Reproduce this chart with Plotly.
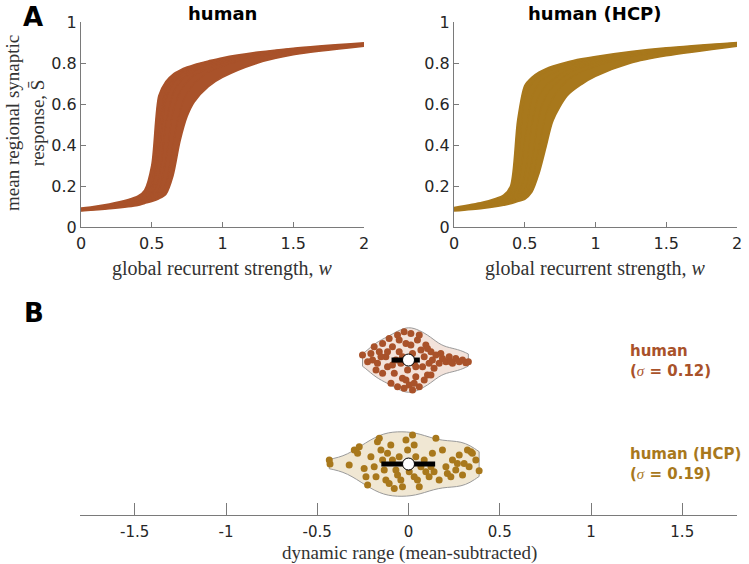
import plotly.graph_objects as go

# ---------------- Data ----------------
# Panel A, human: representative curves (leftmost -> rightmost)
W_HUMAN = [0, 0.2, 0.4, 0.45, 0.5, 0.55, 0.6, 0.65, 0.7, 0.75, 0.8, 0.9, 1.0, 1.25, 1.5, 2.0]
S_HUMAN = [
    [0.092, 0.112, 0.150, 0.180, 0.300, 0.640, 0.710, 0.745, 0.765, 0.780, 0.792, 0.810, 0.826, 0.853, 0.872, 0.898],
    [0.088, 0.106, 0.138, 0.160, 0.210, 0.480, 0.670, 0.720, 0.750, 0.770, 0.785, 0.805, 0.822, 0.850, 0.870, 0.896],
    [0.086, 0.102, 0.130, 0.148, 0.180, 0.360, 0.620, 0.700, 0.735, 0.758, 0.775, 0.800, 0.818, 0.847, 0.868, 0.895],
    [0.084, 0.098, 0.122, 0.138, 0.160, 0.240, 0.500, 0.650, 0.710, 0.740, 0.760, 0.790, 0.810, 0.843, 0.865, 0.893],
    [0.082, 0.095, 0.116, 0.130, 0.145, 0.180, 0.330, 0.560, 0.660, 0.710, 0.740, 0.775, 0.800, 0.838, 0.862, 0.891],
    [0.080, 0.092, 0.110, 0.122, 0.135, 0.155, 0.210, 0.400, 0.570, 0.650, 0.700, 0.755, 0.785, 0.830, 0.857, 0.888],
    [0.078, 0.089, 0.105, 0.115, 0.125, 0.138, 0.160, 0.250, 0.420, 0.540, 0.610, 0.685, 0.730, 0.800, 0.840, 0.882],
]

# Panel A, human (HCP)
W_HCP = [0, 0.2, 0.3, 0.35, 0.4, 0.45, 0.5, 0.55, 0.6, 0.65, 0.7, 0.8, 0.9, 1.0, 1.25, 1.5, 2.0]
S_HCP = [
    [0.095, 0.120, 0.140, 0.155, 0.200, 0.520, 0.690, 0.730, 0.755, 0.772, 0.785, 0.805, 0.820, 0.832, 0.856, 0.874, 0.900],
    [0.092, 0.114, 0.130, 0.142, 0.170, 0.300, 0.630, 0.700, 0.735, 0.755, 0.770, 0.795, 0.813, 0.827, 0.852, 0.871, 0.898],
    [0.088, 0.108, 0.122, 0.132, 0.150, 0.200, 0.420, 0.630, 0.700, 0.730, 0.750, 0.782, 0.804, 0.820, 0.848, 0.868, 0.896],
    [0.085, 0.103, 0.116, 0.124, 0.138, 0.165, 0.250, 0.500, 0.640, 0.690, 0.720, 0.765, 0.790, 0.810, 0.842, 0.864, 0.894],
    [0.083, 0.099, 0.110, 0.118, 0.128, 0.148, 0.185, 0.320, 0.540, 0.640, 0.685, 0.745, 0.777, 0.800, 0.836, 0.860, 0.891],
    [0.081, 0.095, 0.105, 0.112, 0.120, 0.135, 0.160, 0.220, 0.390, 0.550, 0.630, 0.715, 0.757, 0.785, 0.828, 0.855, 0.888],
    [0.078, 0.091, 0.100, 0.106, 0.113, 0.124, 0.135, 0.170, 0.260, 0.390, 0.520, 0.640, 0.695, 0.735, 0.800, 0.835, 0.882],
]

# Panel B: dynamic range (mean-subtracted), with vertical jitter offsets
DR_HUMAN = [-0.252, -0.224, -0.206, -0.188, -0.160, -0.170, -0.142, -0.124, -0.115, -0.106,
            -0.088, -0.078, -0.060, -0.051, -0.042, -0.033, -0.024, -0.014, -0.005, 0.004,
            0.013, 0.022, 0.031, 0.040, 0.049, 0.059, 0.068, 0.077, 0.086, 0.095,
            0.104, 0.113, 0.123, 0.131, 0.140, 0.150, 0.168, 0.186, 0.205, 0.223,
            0.241, 0.259, 0.278, 0.296, 0.314, 0.328, 0.232, -0.096, -0.060, -0.024,
            0.022, -0.142, -0.178, -0.069, 0.013, -0.051, -0.115, -0.014, 0.040, 0.086,
            -0.151, 0.059, 0.104, -0.033, -0.088, 0.004, 0.123, -0.197, 0.031, 0.177]
JIT_HUMAN = [0.048, -0.016, 0.064, 0.128, 0.080, -0.032, 0.160, 0.032, -0.064, 0.208,
             0.128, -0.128, 0.240, 0.080, -0.032, -0.176, 0.272, 0.160, -0.096, -0.240,
             0.256, 0.064, -0.032, -0.160, 0.192, -0.256, 0.096, -0.064, 0.032, 0.144,
             -0.144, -0.032, 0.080, 0.000, -0.080, 0.048, -0.032, 0.016, -0.016, 0.032,
             -0.032, 0.016, -0.016, 0.000, -0.026, -0.016, -0.016, -0.224, -0.256, -0.272,
             -0.288, -0.128, -0.096, 0.000, 0.144, 0.192, 0.080, -0.192, -0.064, -0.192,
             0.032, 0.240, 0.112, 0.032, -0.048, 0.000, -0.144, 0.000, -0.224, 0.064]

DR_HCP = [-0.434, -0.430, -0.325, -0.297, -0.270, -0.279, -0.243, -0.224, -0.206, -0.178,
          -0.160, -0.170, -0.151, -0.133, -0.124, -0.115, -0.097, -0.088, -0.078, -0.069,
          -0.060, -0.051, -0.042, -0.033, -0.014, -0.005, 0.004, 0.022, 0.031, 0.040,
          0.049, 0.059, 0.068, 0.086, 0.095, 0.113, 0.123, 0.131, 0.140, 0.150,
          0.168, 0.186, 0.205, 0.213, 0.232, 0.241, 0.259, 0.268, 0.278, 0.296,
          0.323, 0.342, 0.350, 0.369, 0.387, 0.332, 0.305, -0.233, -0.188, -0.106,
          -0.142, 0.013, 0.031]
JIT_HCP = [0.038, 0.000, -0.010, 0.135, 0.167, 0.103, -0.042, -0.202, 0.071, -0.122,
           0.247, 0.215, 0.135, -0.058, -0.154, 0.103, 0.183, 0.038, -0.234, -0.058,
           -0.106, 0.071, -0.154, -0.218, 0.231, 0.135, -0.074, 0.279, 0.183, 0.071,
           -0.154, -0.218, -0.026, 0.038, -0.074, -0.122, -0.026, 0.103, -0.074, 0.247,
           -0.154, 0.135, -0.026, -0.090, -0.122, 0.038, -0.058, 0.006, 0.087, -0.106,
           0.135, 0.119, 0.103, 0.038, -0.064, -0.026, 0.006, -0.122, -0.026, -0.186,
           0.038, 0.006, -0.122]

GROUPS = ["human", "human (HCP)"]
GROUP_POS = [2, 1]
MEDIANS = [0.0, 0.0]
Q1 = [-0.093, -0.149]
Q3 = [0.062, 0.146]
SIGMAS = ["0.12", "0.19"]

X_TICKS_A = [0, 0.5, 1, 1.5, 2]
X_TICKTEXT_A = ["0", "0.5", "1", "1.5", "2"]
Y_TICKS_A = [0, 0.2, 0.4, 0.6, 0.8, 1]
Y_TICKTEXT_A = ["0", "0.2", "0.4", "0.6", "0.8", "1"]
X_TICKS_B = [-1.5, -1, -0.5, 0, 0.5, 1, 1.5]
X_TICKTEXT_B = ["-1.5", "-1", "-0.5", "0", "0.5", "1", "1.5"]

# ---------------- Style ----------------
C_HUMAN = "#A9522A"
C_HCP = "#A8781C"
F_HUMAN = "#F3E3DB"
F_HCP = "#F0E7D3"
AX = "#7a7a7a"
TXT = "#262626"
SANS = "DejaVu Sans"
SERIF = "Liberation Serif"

W, H = 749, 564
def px(x):
    return x / W
def py(y):
    return 1 - y / H

fig = go.Figure()

def add_bundle(wv, curves, color, xa, ya):
    fig.add_trace(go.Scatter(x=wv, y=curves[-1], mode="lines", line=dict(color=color, width=1.6, shape="spline", smoothing=0.8),
                             xaxis=xa, yaxis=ya, showlegend=False, hoverinfo="skip"))
    fig.add_trace(go.Scatter(x=wv, y=curves[0], mode="lines", line=dict(color=color, width=1.6, shape="spline", smoothing=0.8),
                             fill="tonexty", fillcolor=color,
                             xaxis=xa, yaxis=ya, showlegend=False, hoverinfo="skip"))
    for c in curves[1:-1]:
        fig.add_trace(go.Scatter(x=wv, y=c, mode="lines", line=dict(color=color, width=1.2, shape="spline", smoothing=0.8),
                                 xaxis=xa, yaxis=ya, showlegend=False, hoverinfo="skip"))

add_bundle(W_HUMAN, S_HUMAN, C_HUMAN, "x", "y")
add_bundle(W_HCP, S_HCP, C_HCP, "x2", "y2")

# Panel B violins
for data, jit, pos, col, fcol, bw, med, q1, q3 in [
    (DR_HUMAN, JIT_HUMAN, GROUP_POS[0], C_HUMAN, F_HUMAN, 0.045, MEDIANS[0], Q1[0], Q3[0]),
    (DR_HCP, JIT_HCP, GROUP_POS[1], C_HCP, F_HCP, 0.075, MEDIANS[1], Q1[1], Q3[1]),
]:
    fig.add_trace(go.Violin(x=data, y=[pos] * len(data), orientation="h", xaxis="x3", yaxis="y3",
                            width=0.62, bandwidth=bw, spanmode="hard", points=False,
                            fillcolor=fcol, line=dict(color="#9a9a9a", width=1),
                            box_visible=False, meanline_visible=False, showlegend=False, hoverinfo="skip"))
    fig.add_trace(go.Scatter(x=data, y=[pos + j for j in jit], mode="markers", xaxis="x3", yaxis="y3",
                             marker=dict(color=col, size=7, line=dict(width=0)), showlegend=False, hoverinfo="skip"))
    fig.add_trace(go.Scatter(x=[q1, q3], y=[pos, pos], mode="lines", xaxis="x3", yaxis="y3",
                             line=dict(color="black", width=5), showlegend=False, hoverinfo="skip"))
    fig.add_trace(go.Scatter(x=[med], y=[pos], mode="markers", xaxis="x3", yaxis="y3",
                             marker=dict(color="white", size=12, line=dict(color="black", width=1)),
                             showlegend=False, hoverinfo="skip"))

tickfont = dict(family=SANS, size=16, color=TXT)
axA = dict(showline=True, linecolor=AX, linewidth=1, ticks="inside", ticklen=5, tickcolor=AX,
           showgrid=False, zeroline=False, tickfont=tickfont, automargin=False)

fig.update_layout(
    template="none",
    width=W, height=H, margin=dict(l=0, r=0, t=0, b=0, pad=0, autoexpand=False),
    paper_bgcolor="white", plot_bgcolor="white",
    violinmode="overlay",
    xaxis=dict(domain=[px(81), px(364)], range=[0, 2], tickvals=X_TICKS_A, ticktext=X_TICKTEXT_A, anchor="y",
               ticklabelstandoff=2, **axA),
    yaxis=dict(domain=[py(227), py(22)], range=[0, 1], tickvals=Y_TICKS_A, ticktext=Y_TICKTEXT_A, anchor="x", **axA),
    xaxis2=dict(domain=[px(454), px(737)], range=[0, 2], tickvals=X_TICKS_A, ticktext=X_TICKTEXT_A, anchor="y2",
                ticklabelstandoff=2, **axA),
    yaxis2=dict(domain=[py(227), py(22)], range=[0, 1], tickvals=Y_TICKS_A, ticktext=Y_TICKTEXT_A, anchor="x2", **axA),
    xaxis3=dict(domain=[px(80), px(737)], range=[-1.8, 1.8], tickvals=X_TICKS_B, ticktext=X_TICKTEXT_B, anchor="y3",
                showline=True, linecolor=AX, linewidth=1, ticks="inside", ticklen=12, tickcolor=AX,
                showgrid=False, zeroline=False, tickfont=dict(family=SANS, size=15, color=TXT),
                automargin=False, ticklabelstandoff=3),
    yaxis3=dict(domain=[py(515), py(320)], range=[0.51, 2.385], visible=False, anchor="x3", automargin=False),
)

ann = []
def add_text(text, x, y, font, **kw):
    d = dict(text=text, x=px(x), y=py(y), xref="paper", yref="paper", showarrow=False,
             xanchor="center", yanchor="middle", font=font)
    d.update(kw)
    ann.append(d)

titlefont = dict(family=SANS, size=18, color="black")
add_text("<b>human</b>", 222, 13, titlefont)
add_text("<b>human (HCP)</b>", 595, 13, titlefont)
add_text("<b>A</b>", 33, 0, dict(family=SANS, size=26, color="black"), yanchor="top")
add_text("<b>B</b>", 34, 313, dict(family=SANS, size=26, color="black"))
serif = dict(family=SERIF, size=19, color="#333333")
add_text("mean regional synaptic<br>response, S\u0304", 0, 123, serif, textangle=-90, xanchor="left")
add_text("global recurrent strength, <i>w</i>", 222, 268, dict(family=SERIF, size=20, color="#333333"))
add_text("global recurrent strength, <i>w</i>", 595, 268, dict(family=SERIF, size=20, color="#333333"))
add_text("dynamic range (mean-subtracted)", 409, 553, serif)
sig = "<span style=\"font-family:'Liberation Serif';font-style:italic;font-weight:normal\">\u03c3</span>"
for name, s, col, yc in [(GROUPS[0], SIGMAS[0], C_HUMAN, 361), (GROUPS[1], SIGMAS[1], C_HCP, 464)]:
    add_text(f"<b>{name}<br>({sig} = {s})</b>", 628, yc, dict(family=SANS, size=15, color=col),
             xanchor="left", align="left")
fig.update_layout(annotations=ann)

# remove the default page margin so the figure sits at the window's top-left corner
fig.write_html("out.html", config={"displayModeBar": False},
               post_script="document.body.style.margin='0';")
